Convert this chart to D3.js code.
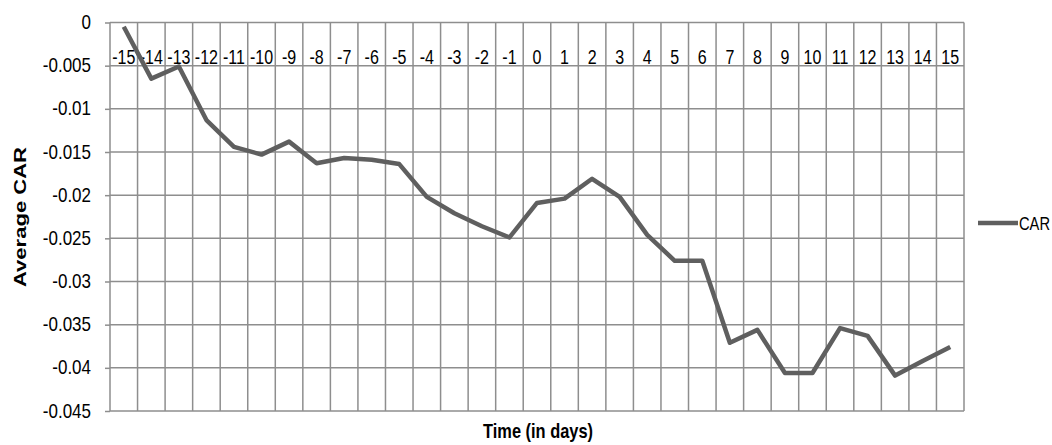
<!DOCTYPE html>
<html>
<head>
<meta charset="utf-8">
<script src="https://cdn.jsdelivr.net/npm/d3@7"></script>
<style>
  body { margin: 0; background: #fff; }
  text { font-family: "Liberation Sans", Arial, sans-serif; fill: #000; }
</style>
</head>
<body>
<script>
// days around the event and the average CAR per day
const days = [-15,-14,-13,-12,-11,-10,-9,-8,-7,-6,-5,-4,-3,-2,-1,0,1,2,3,4,5,6,7,8,9,10,11,12,13,14,15];
const car = [-0.0005,-0.0065,-0.0051,-0.0113,-0.0144,-0.0153,-0.0138,-0.0163,-0.0157,-0.0159,-0.0164,
  -0.0202,-0.0221,-0.0236,-0.0249,-0.0209,-0.0204,-0.0181,-0.0202,-0.0246,-0.0276,-0.0276,
  -0.0371,-0.0356,-0.0406,-0.0406,-0.0354,-0.0363,-0.0409,-0.0392,-0.0376];
const yTicks = [0,-0.005,-0.01,-0.015,-0.02,-0.025,-0.03,-0.035,-0.04,-0.045];
const yTickLabels = ["0","-0.005","-0.01","-0.015","-0.02","-0.025","-0.03","-0.035","-0.04","-0.045"];
const seriesName = "CAR";

const W = 1052, H = 445;
const plotL = 110, plotR = 964, plotT = 22.5, plotB = 411;
const gridColor = "#8e8e8e", lineColor = "#5f5f5f";

const svg = d3.select("body").append("svg").attr("width", W).attr("height", H);

const x = d3.scaleBand().domain(days).range([plotL, plotR]);
const y = d3.scaleLinear().domain([-0.045, 0]).range([plotB, plotT]);

// horizontal grid + y axis (text stretched a bit vertically like the original)
const yAxis = d3.axisLeft(y).tickValues(yTicks).tickSize(5).tickPadding(14)
  .tickFormat((d, i) => yTickLabels[i]);
const gy = svg.append("g").attr("transform", `translate(${plotL},0)`).call(yAxis);
gy.select(".domain").remove();
gy.selectAll(".tick line").attr("stroke", gridColor).attr("stroke-width", 1.5);
gy.selectAll(".tick text").attr("font-size", 17).attr("font-family", "Liberation Sans")
  .attr("transform", "scale(1,1.2)").attr("dy", "0.3em");

svg.append("g").selectAll("line").data(yTicks).join("line")
  .attr("x1", plotL).attr("x2", plotR)
  .attr("y1", d => y(d)).attr("y2", d => y(d))
  .attr("stroke", gridColor).attr("stroke-width", 1.5);

// vertical grid at category boundaries
const bounds = days.map(d => x(d)).concat([plotR]);
svg.append("g").selectAll("line").data(bounds).join("line")
  .attr("x1", d => d).attr("x2", d => d)
  .attr("y1", plotT).attr("y2", plotB)
  .attr("stroke", gridColor).attr("stroke-width", 1.5);

// category labels under the zero line
const xAxis = d3.axisBottom(x).tickSize(0).tickPadding(22);
const gx = svg.append("g").attr("transform", `translate(0,${y(0)})`).call(xAxis);
gx.select(".domain").remove();
gx.selectAll(".tick text").attr("font-size", 16).attr("font-family", "Liberation Sans")
  .attr("transform", "scale(1,1.25)");

// the CAR line
const line = d3.line().x((d, i) => x(days[i]) + x.bandwidth() / 2).y(d => y(d));
svg.append("path").datum(car)
  .attr("d", line)
  .attr("fill", "none").attr("stroke", lineColor).attr("stroke-width", 4.5)
  .attr("stroke-linejoin", "round");

// axis titles
svg.append("text")
  .attr("transform", "translate(26,217) rotate(-90)")
  .attr("text-anchor", "middle")
  .attr("font-weight", "bold").attr("font-size", 17)
  .attr("textLength", 140).attr("lengthAdjust", "spacingAndGlyphs")
  .text("Average CAR");

svg.append("text")
  .attr("transform", "translate(538,438) scale(1,1.2)")
  .attr("text-anchor", "middle")
  .attr("font-weight", "bold").attr("font-size", 17)
  .attr("textLength", 110).attr("lengthAdjust", "spacingAndGlyphs")
  .text("Time (in days)");

// legend
svg.append("line").attr("x1", 978).attr("x2", 1018).attr("y1", 223).attr("y2", 223)
  .attr("stroke", lineColor).attr("stroke-width", 4.5);
svg.append("text").attr("transform", "translate(1019,230) scale(1,1.15)")
  .attr("font-size", 16).attr("textLength", 31).attr("lengthAdjust", "spacingAndGlyphs")
  .text(seriesName);
</script>
</body>
</html>
